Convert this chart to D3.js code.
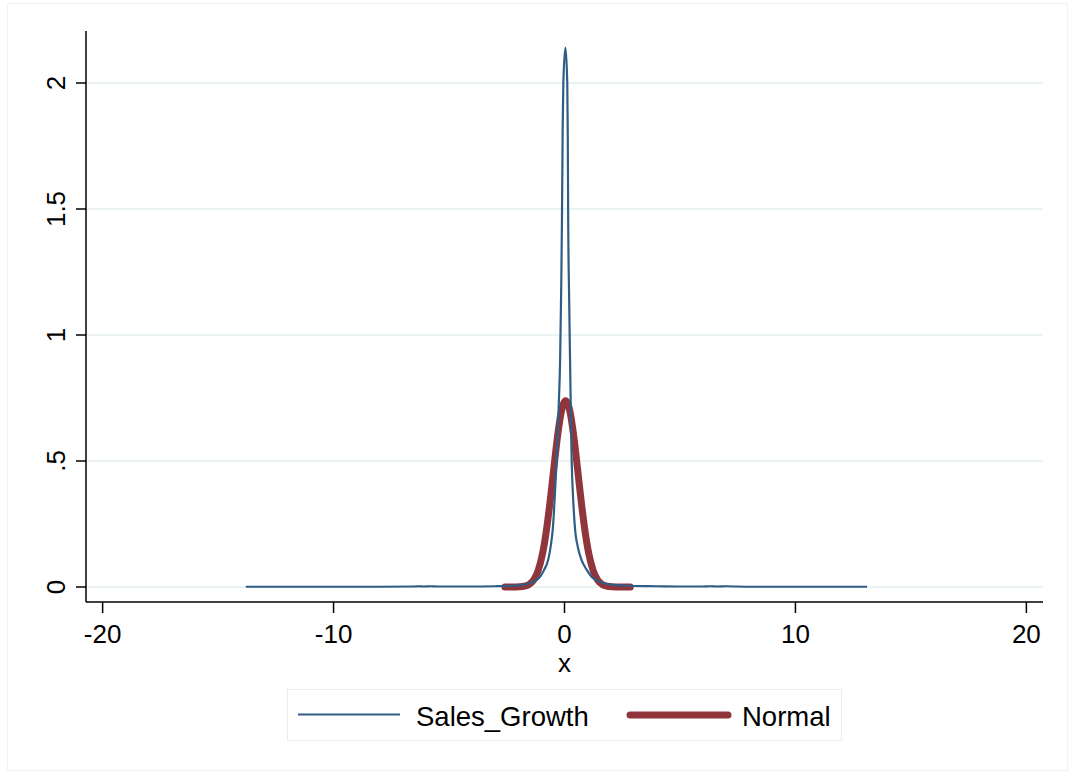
<!DOCTYPE html>
<html>
<head>
<meta charset="utf-8">
<script src="https://cdn.jsdelivr.net/npm/d3@7"></script>
<style>
  body { margin: 0; background: #fff; }
  text { font-family: "Liberation Sans", Arial, sans-serif; fill: #000; }
</style>
</head>
<body>
<script>
// kernel density of Sales_Growth
var salesX = [-13.8, -12, -10, -8, -6.5, -6.3, -6.1, -5.8, -5.5, -4, -3, -2.5, -2, -1.7, -1.42, -1.2, -1.06, -0.9,
  -0.71, -0.6, -0.5, -0.42, -0.34, -0.25, -0.19, -0.14, -0.11, -0.08, -0.05, 0.04, 0.12, 0.14, 0.16, 0.2, 0.24,
  0.31, 0.38, 0.45, 0.6, 0.74, 0.95, 1.18, 1.54, 2, 2.5, 3, 4, 5, 6, 6.3, 6.6, 7, 8, 10, 12, 13.1];
var salesY = [0.001, 0.001, 0.001, 0.001, 0.002, 0.003, 0.002, 0.003, 0.002, 0.002, 0.003, 0.004, 0.006, 0.010, 0.018, 0.028, 0.040, 0.065,
  0.107, 0.16, 0.238, 0.36, 0.504, 0.72, 0.90, 1.2, 1.456, 1.81, 2.0, 2.14, 2.0, 1.81, 1.456, 1.15, 0.90,
  0.504, 0.34, 0.238, 0.15, 0.107, 0.07, 0.04, 0.02, 0.01, 0.006, 0.004, 0.003, 0.002, 0.002, 0.003, 0.002, 0.003, 0.001, 0.001, 0.001, 0.001];

// normal density overlay
var normX = [-2.58, -2.35, -2.15, -1.95, -1.75, -1.55, -1.35, -1.15, -0.95, -0.85, -0.75, -0.65, -0.55, -0.45, -0.35,
  -0.25, -0.15, -0.05, 0.05, 0.15, 0.25, 0.35, 0.45, 0.55, 0.65, 0.75, 0.85, 0.95, 1.05, 1.25, 1.45, 1.65, 1.85,
  2.05, 2.25, 2.45, 2.65, 2.85];
var normY = [0, 0, 0.0002, 0.0008, 0.0029, 0.0092, 0.0256, 0.0626, 0.133, 0.184, 0.247, 0.319, 0.399, 0.481, 0.562,
  0.633, 0.690, 0.726, 0.739, 0.726, 0.690, 0.633, 0.562, 0.481, 0.399, 0.319, 0.247, 0.184, 0.133, 0.0626, 0.0256,
  0.0092, 0.0029, 0.0008, 0.0002, 0, 0, 0];

var xTicks = [-20, -10, 0, 10, 20];
var yTicks = [0, 0.5, 1, 1.5, 2];
var yTickLabels = ["0", ".5", "1", "1.5", "2"];
var seriesNames = ["Sales_Growth", "Normal"];

var w = 1072, h = 776;
var blue = "#2e5d86", red = "#90353b";

var svg = d3.select("body").append("svg").attr("width", w).attr("height", h);

svg.append("rect").attr("x", 7.5).attr("y", 3.5).attr("width", w - 12).attr("height", h - 9)
  .attr("fill", "#fff").attr("stroke", "#eef3f5");

var x = d3.scaleLinear().domain([-20.72, 20.72]).range([86, 1043]);
var y = d3.scaleLinear().domain([0, 2]).range([587, 83]);
var axisTop = 31, axisBottom = 602;

// grid
svg.append("g").selectAll("line").data(yTicks).enter().append("line")
  .attr("x1", 86).attr("x2", 1043)
  .attr("y1", function(d) { return y(d); }).attr("y2", function(d) { return y(d); })
  .attr("stroke", "#eaf2f3").attr("stroke-width", 2);

// y axis
var ya = svg.append("g");
ya.append("line").attr("x1", 86).attr("x2", 86).attr("y1", axisTop).attr("y2", axisBottom)
  .attr("stroke", "#000").attr("stroke-width", 1.5);
ya.selectAll(".t").data(yTicks).enter().append("line")
  .attr("x1", 76).attr("x2", 86)
  .attr("y1", function(d) { return y(d); }).attr("y2", function(d) { return y(d); })
  .attr("stroke", "#000").attr("stroke-width", 1.5);
ya.selectAll("text").data(yTicks).enter().append("text")
  .attr("transform", function(d) { return "translate(65," + y(d) + ") rotate(-90)"; })
  .attr("text-anchor", "middle").attr("font-size", 26)
  .text(function(d, i) { return yTickLabels[i]; });

// x axis
var xa = svg.append("g");
xa.append("line").attr("x1", 86).attr("x2", 1043).attr("y1", axisBottom).attr("y2", axisBottom)
  .attr("stroke", "#000").attr("stroke-width", 1.5);
xa.selectAll(".t").data(xTicks).enter().append("line")
  .attr("x1", function(d) { return x(d); }).attr("x2", function(d) { return x(d); })
  .attr("y1", axisBottom).attr("y2", axisBottom + 11)
  .attr("stroke", "#000").attr("stroke-width", 1.5);
xa.selectAll("text").data(xTicks).enter().append("text")
  .attr("x", function(d) { return x(d); }).attr("y", 643)
  .attr("text-anchor", "middle").attr("font-size", 26)
  .text(function(d) { return d; });
svg.append("text").attr("x", x(0)).attr("y", 672).attr("text-anchor", "middle")
  .attr("font-size", 26).text("x");

// curves
var line = d3.line()
  .x(function(d) { return x(d[0]); })
  .y(function(d) { return y(d[1]); })
  .curve(d3.curveMonotoneX);

svg.append("path").datum(normX.map(function(v, i) { return [v, normY[i]]; }))
  .attr("d", line).attr("fill", "none").attr("stroke", red)
  .attr("stroke-width", 7).attr("stroke-linecap", "round").attr("stroke-linejoin", "round");

svg.append("path").datum(salesX.map(function(v, i) { return [v, salesY[i]]; }))
  .attr("d", line).attr("fill", "none").attr("stroke", blue).attr("stroke-width", 2.2);

// legend
var lg = svg.append("g");
lg.append("rect").attr("x", 287.5).attr("y", 689.5).attr("width", 554).attr("height", 51)
  .attr("fill", "#fff").attr("stroke", "#e6eef2");
lg.append("line").attr("x1", 298).attr("x2", 400).attr("y1", 714.5).attr("y2", 714.5)
  .attr("stroke", blue).attr("stroke-width", 2);
lg.append("text").attr("x", 416).attr("y", 725.5).attr("font-size", 27.5).text(seriesNames[0]);
lg.append("line").attr("x1", 630).attr("x2", 728).attr("y1", 715).attr("y2", 715)
  .attr("stroke", red).attr("stroke-width", 7).attr("stroke-linecap", "round");
lg.append("text").attr("x", 742).attr("y", 725.5).attr("font-size", 27.5).text(seriesNames[1]);
</script>
</body>
</html>
